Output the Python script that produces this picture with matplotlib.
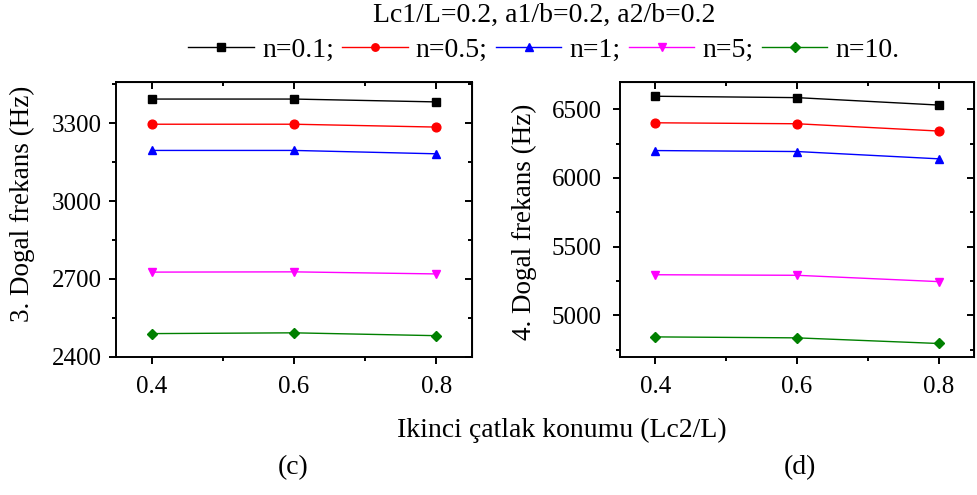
import numpy as np
import matplotlib.pyplot as plt
from matplotlib.ticker import MultipleLocator

plt.rcParams['font.family'] = ['Liberation Serif', 'DejaVu Serif']

# data
positions = [0.4, 0.6, 0.8]
labels = ['n=0.1;', 'n=0.5;', 'n=1;', 'n=5;', 'n=10.']
colors = ['black', 'red', 'blue', 'magenta', 'green']
markers = ['s', 'o', '^', 'v', 'D']

freq3 = [
    [3393, 3393, 3382],
    [3296, 3296, 3285],
    [3195, 3195, 3182],
    [2726, 2727, 2719],
    [2489, 2492, 2481],
]
freq4 = [
    [6594, 6584, 6530],
    [6401, 6394, 6341],
    [6199, 6192, 6139],
    [5296, 5292, 5246],
    [4844, 4837, 4796],
]

fs = 20
tfs = 18

fig = plt.figure(figsize=(9.77, 4.95), dpi=100)
ax1 = fig.add_axes([0.1187, 0.2794, 0.3644, 0.5556])
ax2 = fig.add_axes([0.6346, 0.2794, 0.3623, 0.5556])


def style_axis(ax, ylim, ymajor, yminor, ylabel, ypad, lab_xy):
    ax.set_xlim(0.35, 0.85)
    ax.set_ylim(*ylim)
    ax.xaxis.set_major_locator(MultipleLocator(0.2))
    ax.xaxis.set_minor_locator(MultipleLocator(0.1))
    ax.yaxis.set_major_locator(MultipleLocator(ymajor))
    ax.yaxis.set_minor_locator(MultipleLocator(yminor))
    ax.set_xticks([0.4, 0.6, 0.8])
    ax.set_xticklabels(['0.4', '0.6', '0.8'])
    for s in ax.spines.values():
        s.set_linewidth(1.4)
    ax.tick_params(which='both', direction='out', width=1.4, labelsize=tfs)
    ax.tick_params(which='major', length=5)
    ax.tick_params(which='minor', length=3)
    ax.tick_params(axis='x', pad=9)
    ax.tick_params(axis='y', pad=ypad)
    ax.set_ylabel(ylabel, fontsize=19.5)
    ax.yaxis.set_label_coords(*lab_xy)

    top = ax.secondary_xaxis('top')
    top.xaxis.set_major_locator(MultipleLocator(0.2))
    top.xaxis.set_minor_locator(MultipleLocator(0.1))
    top.tick_params(which='both', direction='in', width=1.4, labeltop=False)
    top.tick_params(which='major', length=5)
    top.tick_params(which='minor', length=3)
    right = ax.secondary_yaxis('right')
    right.yaxis.set_major_locator(MultipleLocator(ymajor))
    right.yaxis.set_minor_locator(MultipleLocator(yminor))
    right.tick_params(which='both', direction='in', width=1.4, labelright=False)
    right.tick_params(which='major', length=5)
    right.tick_params(which='minor', length=3)


handles = []
for vals, lab, c, m in zip(freq3, labels, colors, markers):
    ms = 5.5 if m == 'D' else 6.3
    h, = ax1.plot(positions, vals, color=c, marker=m, markersize=ms, linewidth=1.0, label=lab)
    handles.append(h)
for vals, lab, c, m in zip(freq4, labels, colors, markers):
    ms = 5.5 if m == 'D' else 6.3
    ax2.plot(positions, vals, color=c, marker=m, markersize=ms, linewidth=1.0, label=lab)

style_axis(ax1, (2400, 3460), 300, 150, '3. Dogal frekans (Hz)', 5, (-0.228, 0.555))
style_axis(ax2, (4700, 6700), 500, 250, '4. Dogal frekans (Hz)', 8, (-0.234, 0.49))

fig.text(0.557, 0.968, 'Lc1/L=0.2, a1/b=0.2, a2/b=0.2', ha='center', va='center', fontsize=fs)
fig.legend(handles=handles, loc='center', bbox_to_anchor=(0.557, 0.899), ncol=5, frameon=False,
           fontsize=fs, handlelength=2.35, handletextpad=0.3, columnspacing=0.3,
           markerscale=0.85, borderpad=0.1)
fig.text(0.575, 0.131, 'Ikinci çatlak konumu (Lc2/L)', ha='center', va='center', fontsize=fs)
fig.text(0.300, 0.0545, '(c)', ha='center', va='center', fontsize=fs)
fig.text(0.819, 0.0545, '(d)', ha='center', va='center', fontsize=fs)

fig.savefig('out.png', dpi=100)
